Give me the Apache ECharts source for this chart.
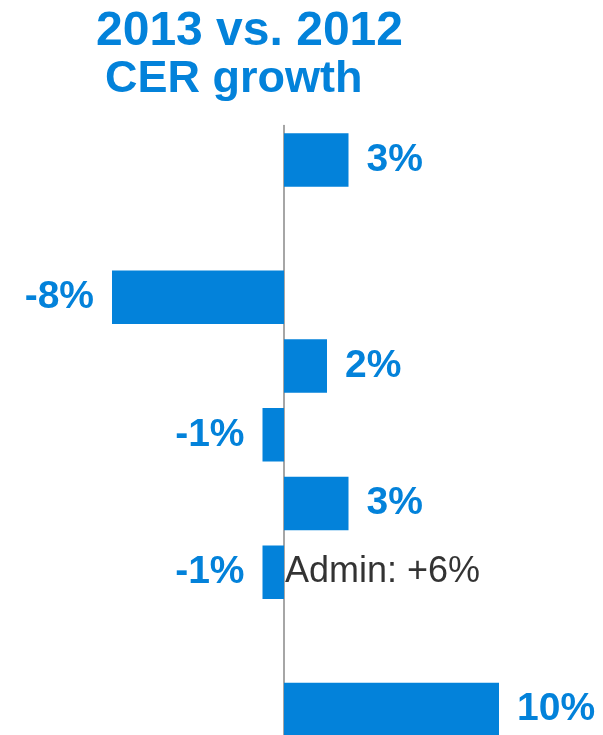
<!DOCTYPE html>
<html>
<head>
<meta charset="utf-8">
<script src="https://cdn.jsdelivr.net/npm/echarts@6/dist/echarts.min.js"></script>
<style>
html,body{margin:0;padding:0;background:#fff;overflow:hidden;}
#main{width:603px;height:750px;}
</style>
</head>
<body>
<div id="main"></div>
<script>
// Data
var categories = ['Row 1', 'Row 2', 'Row 3', 'Row 4', 'Row 5', 'Row 6', 'Row 7', 'Row 8', 'Row 9'];
var growthValues = [3, null, -8, 2, -1, 3, -1, null, 10];
var annotationCategory = 'Row 7';
var annotationText = 'Admin: +6%';
var titleLine1 = '2013 vs. 2012';
var titleLine2 = 'CER growth';

var BLUE = '#0382DA';
var FONT = '"Liberation Sans", Arial, Helvetica, sans-serif';

var chart = echarts.init(document.getElementById('main'), null, {renderer: 'canvas'});

var barData = growthValues.map(function (v) {
  if (v === null) return null;
  return {
    value: v,
    label: {position: v >= 0 ? 'right' : 'left'}
  };
});

chart.setOption({
  animation: false,
  backgroundColor: '#fff',
  title: [
    {text: titleLine1, left: 96, top: 8, padding: 0,
     textStyle: {color: BLUE, fontSize: 48, fontWeight: 'bold', fontFamily: FONT}},
    {text: titleLine2, left: 105, top: 57, padding: 0,
     textStyle: {color: BLUE, fontSize: 45, fontWeight: 'bold', fontFamily: FONT}}
  ],
  grid: {left: 26, top: 125.6, width: 559, height: 618.3, containLabel: false},
  xAxis: {
    type: 'value', min: -12, max: 14,
    axisLine: {show: false}, axisTick: {show: false},
    axisLabel: {show: false}, splitLine: {show: false}
  },
  yAxis: {
    type: 'category', data: categories, inverse: true,
    axisLine: {show: true, onZero: true, lineStyle: {color: '#888', width: 1.5}},
    axisTick: {show: false}, axisLabel: {show: false}, splitLine: {show: false}
  },
  series: [
    {
      type: 'bar',
      data: barData,
      barWidth: 53.5,
      itemStyle: {color: BLUE},
      label: {
        show: true,
        distance: 18,
        formatter: function (p) { return p.value + '%'; },
        color: BLUE, fontSize: 39, fontWeight: 'bold', fontFamily: FONT
      },
      z: 2
    },
    {
      type: 'scatter',
      data: [[0, annotationCategory]],
      symbolSize: 0,
      label: {
        show: true, position: 'right', distance: 1,
        formatter: annotationText,
        color: '#000', fontSize: 36, fontFamily: FONT
      },
      z: 5
    }
  ]
});
</script>
</body>
</html>
